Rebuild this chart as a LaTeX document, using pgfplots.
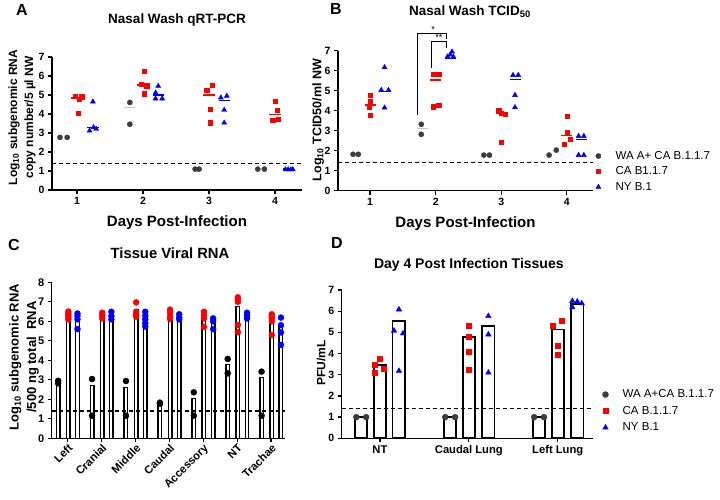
\documentclass[border=0pt]{standalone}
\usepackage{fontspec}
\setmainfont{Liberation Sans}
\usepackage{pgfplots}
\pgfplotsset{compat=1.18}
\definecolor{dgray}{HTML}{3C3C3C}
\definecolor{lgray}{HTML}{C8C8C8}
\definecolor{myred}{HTML}{FF0000}
\definecolor{myblue}{HTML}{0000FF}
\newcommand\fs[2]{\fontsize{#1bp}{#2bp}\selectfont}

\pgfplotsset{
  panel/.style={
    scale only axis, anchor=south west,
    axis lines*=left, axis line style={-, line width=1.5bp, black},
    tick align=outside, major tick length=4bp,
    tick style={line width=1.3bp, black},
    enlargelimits=false, clip=false, ymin=0,
    /pgf/number format/assume math mode=true,
    ticklabel style={font=\bfseries\fs{10.5}{12}},
    legend cell align=left,
  },
  leg/.style={legend style={draw=none, fill=none, inner sep=0pt,
      font=\fs{11.5}{13}, row sep=4bp, nodes={inner sep=1bp}}},
  limg/.style={legend image code/.code={\path (-5bp,0bp) (16bp,0bp); \draw[##1] plot coordinates {(0bp,0bp)};}},
  gpt/.style={only marks, mark=*, mark size=2.6bp, color=dgray, mark options={fill=dgray, draw=dgray}, limg},
  rpt/.style={only marks, mark=square*, mark size=2.1bp, color=myred, mark options={fill=myred, draw=myred}, limg},
  bpt/.style={only marks, mark=triangle*, mark size=2.9bp, color=myblue, mark options={fill=myblue, draw=myblue}, limg},
  kdot/.style={only marks, mark=*, mark size=3bp, color=black, mark options={fill=black, draw=black}},
  rdot/.style={only marks, mark=*, mark size=3bp, color=myred, mark options={fill=myred, draw=myred}},
  bdot/.style={only marks, mark=*, mark size=3bp, color=myblue, mark options={fill=myblue, draw=myblue}},
  med/.style={forget plot, line width=1.3bp, #1},
  lod/.style={forget plot, line width=1.3bp, black, dash pattern=on 4bp off 3bp},
  cbar/.style={forget plot, ybar, bar width=0.104, bar shift=0, draw=black, fill=white, line width=1.4bp},
  dbar/.style={forget plot, ybar, bar width=0.138, bar shift=0, draw=black, fill=white, line width=1.8bp},
}

\begin{document}
\begin{tikzpicture}
\useasboundingbox (0,0) rectangle (720bp,-500bp);

% ---------------- A: nasal wash qRT-PCR
\begin{axis}[panel, at={(52bp,-190bp)}, width=250bp, height=133bp,
  xmin=0.62, xmax=4.41, ymax=7, xtick={1,2,3,4}, ytick={0,...,7},
  xlabel={Days Post-Infection},
  xlabel style={font=\bfseries\fs{15}{18}, at={(axis description cs:0.5,-0.245)}, anchor=center},
  ylabel={Log\textsubscript{10} subgenomic RNA\\copy number/5 µl NW},
  ylabel style={font=\bfseries\fs{12}{16}, align=center, at={(axis description cs:-0.12,0.545)}, anchor=center}]
\addplot[lod] coordinates {(0.62,1.4) (4.41,1.4)};
\addplot[med=lgray] coordinates {(1.715,4.33) (1.885,4.33)};
\addplot[med=myred] coordinates {(0.915,4.85) (1.085,4.85)};
\addplot[med=myred] coordinates {(1.915,5.53) (2.085,5.53)};
\addplot[med=myred] coordinates {(2.915,5.0) (3.085,5.0)};
\addplot[med=myred] coordinates {(3.915,3.98) (4.085,3.98)};
\addplot[med=myblue] coordinates {(1.155,3.3) (1.325,3.3)};
\addplot[med=myblue] coordinates {(2.145,5.0) (2.315,5.0)};
\addplot[med=myblue] coordinates {(3.145,4.72) (3.315,4.72)};
\addplot[med=myblue] coordinates {(4.125,1.1) (4.295,1.1)};
\addplot[gpt] coordinates {(0.74,2.77) (0.85,2.77) (1.8,4.61) (1.8,3.46)
  (2.79,1.1) (2.85,1.1) (3.74,1.1) (3.84,1.1)};
\addplot[rpt] coordinates {(0.97,4.95) (1.035,4.77) (1.07,4.91) (1.02,4.04)
  (2.02,6.26) (1.97,5.58) (2.055,5.49) (2.02,5.07)
  (2.965,5.26) (3.05,5.53) (3.015,4.26) (3.015,3.54)
  (4.0,4.68) (4.04,4.21) (3.965,3.68) (4.05,3.74)};
\addplot[bpt] coordinates {(1.24,4.65) (1.19,3.12) (1.25,3.30) (1.29,3.21)
  (2.23,5.47) (2.19,5.12) (2.19,4.81) (2.29,4.81)
  (3.18,4.86) (3.27,4.95) (3.23,4.21) (3.23,3.54)
  (4.16,1.08) (4.2,1.08) (4.24,1.08) (4.27,1.08)};
\end{axis}

% ---------------- B: nasal wash TCID50
\begin{axis}[panel, leg, at={(338bp,-190.7bp)}, width=255bp, height=140bp,
  xmin=0.51, xmax=4.4, ymax=7, xtick={1,2,3,4}, ytick={0,...,7},
  xlabel={Days Post-Infection},
  xlabel style={font=\bfseries\fs{15}{18}, at={(axis description cs:0.5,-0.235)}, anchor=center},
  ylabel={Log\textsubscript{10} TCID50/ml NW},
  ylabel style={font=\bfseries\fs{12.5}{15}, at={(axis description cs:-0.078,0.505)}, anchor=center},
  legend style={at={(axis description cs:1.0,0.29)}, anchor=north west}]
\addplot[lod] coordinates {(0.51,1.4) (4.4,1.4)};
\addplot[med=lgray] coordinates {(1.715,3.12) (1.885,3.12)};
\addplot[med=myred] coordinates {(0.915,4.28) (1.085,4.28)};
\addplot[med=myred] coordinates {(1.915,5.53) (2.085,5.53)};
\addplot[med=myred] coordinates {(2.915,3.85) (3.085,3.85)};
\addplot[med=myred] coordinates {(3.915,2.77) (4.085,2.77)};
\addplot[med=myblue] coordinates {(1.135,4.95) (1.305,4.95)};
\addplot[med=myblue] coordinates {(2.135,6.62) (2.305,6.62)};
\addplot[med=myblue] coordinates {(3.135,5.57) (3.305,5.57)};
\addplot[med=myblue] coordinates {(4.135,2.57) (4.305,2.57)};
\addplot[gpt] coordinates {(0.74,1.82) (0.82,1.82) (1.78,3.32) (1.78,2.82)
  (2.735,1.78) (2.82,1.78) (3.73,1.78) (3.84,2.03)};
\addlegendentry{WA A+ CA B.1.1.7}
\addplot[rpt] coordinates {(1.0,4.78) (1.0,4.45) (0.99,4.17) (1.0,3.77)
  (1.96,5.83) (2.045,5.83) (1.96,4.2) (2.045,4.28)
  (2.96,4.03) (3.0,3.87) (3.055,3.83) (3.0,2.42)
  (4.005,3.73) (4.005,2.92) (4.05,2.57) (3.955,2.32)};
\addlegendentry{CA B1.1.7}
\addplot[bpt] coordinates {(1.22,6.17) (1.17,5.03) (1.28,5.03) (1.22,4.15)
  (2.18,6.7) (2.27,6.7) (2.22,6.8) (2.25,6.95)
  (3.18,5.78) (3.26,5.78) (3.21,4.78) (3.21,4.17)
  (4.18,2.73) (4.26,2.73) (4.18,1.78) (4.26,1.78)};
\addlegendentry{NY B.1}
\draw[line width=1bp] (axis cs:1.73,3.79) |- (axis cs:2.17,7.87) -- (axis cs:2.17,7.57);
\draw[line width=1bp] (axis cs:1.94,6.12) |- (axis cs:2.17,7.45) -- (axis cs:2.17,7.12);
\node[font=\fs{9}{10}, anchor=south, inner sep=0.5bp] at (axis cs:1.96,7.9) {*};
\node[font=\fs{9}{10}, anchor=south, inner sep=0.5bp] at (axis cs:2.05,7.48) {**};
\end{axis}

% ---------------- C: tissue viral RNA
\begin{axis}[panel, at={(51.7bp,-438.3bp)}, width=233.3bp, height=156bp,
  xmin=-0.47, xmax=6.41, ymax=8, xtick={0,...,6}, ytick={0,...,8},
  xticklabels={Left,Cranial,Middle,Caudal,Accessory,NT,Trachae},
  xticklabel style={rotate=45, anchor=north east, inner sep=0.5bp, font=\bfseries\fs{11.2}{13}},
  yticklabel style={font=\bfseries\fs{11}{13}},
  ylabel={Log\textsubscript{10} subgenomic RNA\\/500 ng total\ \ RNA},
  ylabel style={font=\bfseries\fs{13}{17.5}, align=center, at={(axis description cs:-0.119,0.52)}, anchor=center}]
\addplot[cbar] coordinates {(-0.28,2.85) (0.72,2.7) (1.72,2.6) (2.72,1.8) (3.72,2.05) (4.72,3.79) (5.72,3.11)};
\addplot[cbar] coordinates {(0.02,6.1) (1.02,6.1) (2.02,6.6) (3.02,6.05) (4.02,6.2) (5.02,6.75) (6.02,5.9)};
\addplot[cbar] coordinates {(0.29,6.0) (1.29,6.0) (2.29,6.2) (3.29,6.0) (4.29,5.95) (5.29,6.1) (6.29,5.75)};
\addplot[lod] coordinates {(-0.47,1.4) (6.41,1.4)};
\addplot[kdot] coordinates {(-0.28,2.95) (-0.28,2.82) (0.72,3.04) (0.72,1.16)
  (1.72,2.94) (1.72,1.16) (2.72,1.83) (2.72,1.77) (3.72,2.36) (3.72,1.16)
  (4.72,4.07) (4.72,3.33) (5.72,3.42) (5.72,1.16)};
\addplot[rdot] coordinates {(0.02,6.5) (0.02,6.4) (0.02,6.3) (0.02,6.2) (0.02,6.1)
  (1.02,6.44) (1.02,6.3) (1.02,6.15)
  (2.02,6.97) (2.02,6.49) (2.02,6.36) (2.02,6.24)
  (3.02,6.6) (3.02,6.44) (3.02,6.24) (3.02,6.13)
  (4.02,6.49) (4.02,6.32) (4.02,6.15) (4.02,5.72)
  (5.02,7.23) (5.02,7.1) (5.02,7.0) (5.02,5.81) (5.02,5.44)
  (6.02,6.36) (6.02,6.25) (6.02,6.15) (6.02,6.0) (6.02,5.3)};
\addplot[bdot] coordinates {(0.29,6.4) (0.29,6.27) (0.29,6.1) (0.29,5.6)
  (1.29,6.49) (1.29,6.27) (1.29,6.1)
  (2.29,6.49) (2.29,6.29) (2.29,6.1) (2.29,5.9) (2.29,5.73)
  (3.29,6.36) (3.29,6.2) (3.29,6.1)
  (4.29,6.15) (4.29,6.0) (4.29,5.6)
  (5.29,6.44) (5.29,6.29) (5.29,6.15)
  (6.29,6.19) (6.29,5.8) (6.29,5.43) (6.29,4.79)};
\end{axis}

% ---------------- D: day 4 tissues
\begin{axis}[panel, leg, at={(341.7bp,-438.3bp)}, width=251.6bp, height=148.3bp,
  xmin=-0.43, xmax=2.4, ymax=7, xtick={0,1,2}, ytick={0,...,7},
  xticklabels={NT,Caudal Lung,Left Lung},
  xticklabel style={font=\bfseries\fs{11.2}{13}},
  ylabel={PFU/mL},
  ylabel style={font=\bfseries\fs{12}{14}, at={(axis description cs:-0.082,0.51)}, anchor=center},
  legend style={at={(axis description cs:1.027,0.335)}, anchor=north west, row sep=5bp}]
\addplot[dbar] coordinates {(-0.21,1.0) (0.79,1.0) (1.79,1.0)};
\addplot[dbar] coordinates {(0,3.46) (1,4.8) (2,5.14)};
\addplot[dbar] coordinates {(0.21,5.53) (1.22,5.31) (2.22,6.34)};
\addplot[lod] coordinates {(-0.43,1.4) (2.4,1.4)};
\addplot[gpt, mark size=3bp] coordinates {(-0.265,1.0) (-0.155,1.0) (0.735,1.0) (0.845,1.0) (1.735,1.0) (1.845,1.0)};
\addlegendentry{WA A+CA B.1.1.7}
\addplot[rpt, mark size=2.5bp] coordinates {(-0.056,3.49) (-0.008,3.77) (0.045,3.27) (-0.056,3.09)
  (1.0,5.3) (1.0,4.8) (1.0,4.09) (1.0,3.22)
  (1.944,5.31) (2.05,5.53) (2.0,4.37) (2.0,3.96)};
\addlegendentry{CA B.1.1.7}
\addplot[bpt, mark size=3.2bp] coordinates {(0.214,6.08) (0.158,5.08) (0.26,4.95) (0.214,3.18)
  (1.22,5.77) (1.22,4.9) (1.22,3.1)
  (2.164,6.48) (2.22,6.45) (2.27,6.37) (2.164,6.18)};
\addlegendentry{NY B.1}
\end{axis}

% ---------------- titles and panel letters
\node[font=\bfseries\fs{16}{18}] at (22bp,-10bp) {A};
\node[font=\bfseries\fs{16}{18}] at (336bp,-9bp) {B};
\node[font=\bfseries\fs{16}{18}] at (14bp,-245bp) {C};
\node[font=\bfseries\fs{16}{18}] at (337bp,-243bp) {D};
\node[font=\bfseries\fs{13.5}{16}] at (177bp,-20bp) {Nasal Wash qRT-PCR};
\node[font=\bfseries\fs{13.5}{16}] at (470bp,-12bp) {Nasal Wash TCID\textsubscript{50}};
\node[font=\bfseries\fs{14.8}{17}] at (170bp,-253bp) {Tissue Viral RNA};
\node[font=\bfseries\fs{14}{17}] at (468.8bp,-265bp) {Day 4 Post Infection Tissues};
\end{tikzpicture}
\end{document}
